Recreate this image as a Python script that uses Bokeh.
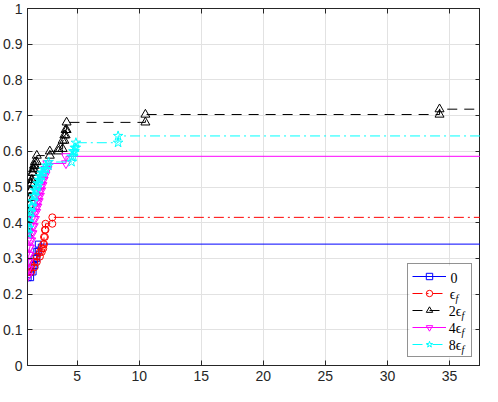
import numpy as np
from bokeh.plotting import figure
from bokeh.models import FixedTicker, LinearAxis, Legend, LegendItem, Range1d
from bokeh.core.properties import value
from bokeh.embed import file_html
from bokeh.resources import INLINE

# ---------------- data ----------------
x_ticks = [5, 10, 15, 20, 25, 30, 35]
x_tick_labels = ["5", "10", "15", "20", "25", "30", "35"]
y_ticks = [0, 0.1, 0.2, 0.3, 0.4, 0.5, 0.6, 0.7, 0.8, 0.9, 1.0]
y_tick_labels = ["0", "0.1", "0.2", "0.3", "0.4", "0.5", "0.6", "0.7", "0.8", "0.9", "1"]
x_min, x_max = 1, 37.5
x_end = 40  # stairs continue past the right edge

series_labels = ["0", "ϵ", "2ϵ", "4ϵ", "8ϵ"]
series_subs = ["", "f", "f", "f", "f"]

s0_x = [1.05, 1.25, 1.45, 1.6, 1.75, 1.87]
s0_y = [0.246, 0.262, 0.28, 0.30, 0.32, 0.34]

s1_x = [1.08, 1.3, 1.55, 1.75, 2.0, 2.15, 2.27, 2.33, 2.4, 2.45, 3.0]
s1_y = [0.262, 0.275, 0.29, 0.305, 0.318, 0.328, 0.34, 0.36, 0.38, 0.397, 0.415]

s2_x = [1.0, 1.03, 1.06, 1.1, 1.14, 1.18, 1.22, 1.27, 1.32, 1.38, 1.45, 1.52, 1.6, 1.75,
        2.8, 3.5, 3.83, 3.97, 4.07, 4.15, 10.5, 34.2]
s2_y = [0.37, 0.39, 0.41, 0.43, 0.45, 0.47, 0.49, 0.51, 0.52, 0.54, 0.55, 0.56, 0.57, 0.588,
        0.60, 0.607, 0.63, 0.645, 0.66, 0.681, 0.703, 0.718]

s3_x = [1.0, 1.03, 1.06, 1.1, 1.15, 1.2, 1.3, 1.4, 1.5, 1.6, 1.7, 1.8, 1.9, 2.0, 2.1, 2.2,
        2.3, 2.45, 2.6, 4.1]
s3_y = [0.25, 0.27, 0.29, 0.31, 0.33, 0.35, 0.37, 0.39, 0.41, 0.43, 0.445, 0.46, 0.475, 0.49,
        0.505, 0.52, 0.535, 0.55, 0.566, 0.586]

s4_x = [1.0, 1.05, 1.1, 1.15, 1.2, 1.3, 1.4, 1.5, 1.6, 1.7, 1.8, 1.9, 2.0, 2.15, 2.3, 2.5,
        2.7, 4.55, 4.7, 4.8, 4.9, 8.3]
s4_y = [0.37, 0.385, 0.40, 0.415, 0.43, 0.445, 0.46, 0.475, 0.49, 0.50, 0.51, 0.52, 0.53,
        0.54, 0.55, 0.56, 0.57, 0.585, 0.60, 0.61, 0.624, 0.643]

series = [
    (s0_x, s0_y, "#0000ff", "solid", "square", 6),
    (s1_x, s1_y, "#ff0000", "10 4 2 4", "circle", 7),
    (s2_x, s2_y, "#000000", "10 7", "triangle", 9),
    (s3_x, s3_y, "#ff00ff", "solid", "inverted_triangle", 9),
    (s4_x, s4_y, "#00ffff", "10 4 2 4", "star", 10),
]


def stairs(xs, ys, xe):
    mx, my = [xs[0]], [ys[0]]
    for i in range(1, len(xs)):
        mx += [xs[i], xs[i]]
        my += [ys[i - 1], ys[i]]
    return mx, my, mx + [xe], my + [ys[-1]]


# ---------------- figure ----------------
frame_w, frame_h = 453, 357
BL, BR, BT, BB = 26, 0, 8, 21
AX = "#262626"
p = figure(frame_width=frame_w, frame_height=frame_h,
           x_range=Range1d(x_min, x_max), y_range=Range1d(0, 1),
           output_backend="svg", toolbar_location=None,
           min_border_left=BL, min_border_right=BR, min_border_top=BT, min_border_bottom=BB,
           background_fill_color="white", border_fill_color="white")
p.outline_line_color = AX
p.outline_line_width = 1


def style_axis(ax, labels=True):
    ax.axis_line_color = AX
    ax.major_tick_line_color = AX
    ax.major_tick_in = 5
    ax.major_tick_out = 0
    ax.minor_tick_line_color = None
    ax.major_label_text_font = "Liberation Sans"
    if labels:
        ax.major_label_text_font_size = "14px"
        ax.major_label_text_color = AX
        ax.major_label_standoff = 5
    else:
        ax.major_label_text_font_size = "1px"
        ax.major_label_text_color = None
        ax.major_label_standoff = 0


p.xaxis.ticker = FixedTicker(ticks=x_ticks)
p.xaxis.major_label_overrides = dict(zip(x_ticks, x_tick_labels))
p.yaxis.ticker = FixedTicker(ticks=y_ticks)
p.yaxis.major_label_overrides = dict(zip(y_ticks, y_tick_labels))
style_axis(p.xaxis[0])
style_axis(p.yaxis[0])

# ticks on the top and right edges of the box (no labels)
top_ax = LinearAxis(ticker=FixedTicker(ticks=x_ticks))
right_ax = LinearAxis(ticker=FixedTicker(ticks=y_ticks))
style_axis(top_ax, False)
style_axis(right_ax, False)
p.add_layout(top_ax, "above")
p.add_layout(right_ax, "right")

p.xgrid.ticker = FixedTicker(ticks=x_ticks)
p.ygrid.ticker = FixedTicker(ticks=y_ticks)
p.grid.grid_line_color = "#e2e2e2"
p.grid.grid_line_width = 1

# pixel -> data helpers for the legend decoration
def dx(px):
    return x_min + px * (x_max - x_min) / frame_w

def dy(py):
    return py / frame_h

# legend geometry (pixels, relative to frame bottom-left)
LG_W, LG_H, LG_M = 63, 92, 8
lg_left = frame_w - LG_M - LG_W
lg_top = LG_M + LG_H

# white background of the legend, under the legend texts
p.quad(left=[dx(lg_left)], right=[dx(lg_left + LG_W)], bottom=[dy(LG_M)], top=[dy(lg_top)],
       fill_color="white", line_color=None)

items = []
for (xs, ys, col, dash, marker, size) in series:
    mx, my, lx, ly = stairs(xs, ys, x_end)
    lr = p.line(lx, ly, line_color=col, line_width=1, line_dash=dash)
    sr = p.scatter(mx, my, marker=marker, size=size, line_color=col, fill_alpha=0,
                   line_width=1)
    items.append(LegendItem(label=" ", renderers=[lr, sr]))

# legend texts as glyphs (drawn under the transparent legend box)
main_x, main_y, main_a = [], [], []
sub_x, sub_y, sub_t = [], [], []
for i, (lab, sub) in enumerate(zip(series_labels, series_subs)):
    yc = lg_top - (4 + i * 17 + 8)
    if sub == "":
        main_x.append(dx(lg_left + 41)); main_a.append("left")
    else:
        fx = lg_left + (46 if lab == "ϵ" else 52)
        main_x.append(dx(fx)); main_a.append("right")
        sub_x.append(dx(fx)); sub_y.append(dy(yc - 4)); sub_t.append(sub)
    main_y.append(dy(yc))

p.text(x=main_x, y=main_y, text=series_labels, text_align=main_a, text_baseline="middle",
       text_font=value("Liberation Serif"), text_font_size="14px", text_color="black")
p.text(x=sub_x, y=sub_y, text=sub_t, text_align="left", text_baseline="middle",
       text_font=value("Liberation Serif"), text_font_style="italic",
       text_font_size="10px", text_color="black")

legend = Legend(items=items, location="bottom_right", margin=LG_M, padding=4, spacing=1,
                glyph_width=34, glyph_height=16, label_height=16, label_width=18,
                label_standoff=3, border_line_color=AX, border_line_width=1,
                background_fill_alpha=0)
p.add_layout(legend)

open("out.html", "w").write(file_html(p, INLINE))
